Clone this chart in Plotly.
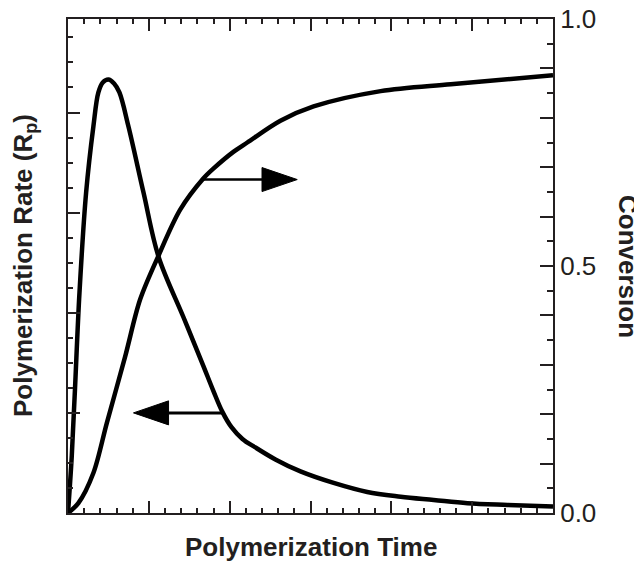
import plotly.graph_objects as go

# ---- data ----
rate_time = [0, 0.23, 0.43, 0.71, 1.12, 1.57, 1.88, 2.15, 2.50, 2.85, 3.18, 3.74, 4.67, 5.60,
             7.13, 8.37, 8.99, 9.55, 10.10, 10.79, 11.59, 12.83, 14.38, 16.43, 18.51, 20.58,
             22.62, 24.71, 27.19, 30.0]
rate_vals = [0, 0.56, 1.23, 2.20, 3.20, 3.86, 4.20, 4.30, 4.33, 4.29, 4.20, 3.86, 3.20, 2.56,
             1.96, 1.47, 1.22, 1.01, 0.86, 0.74, 0.655, 0.535, 0.415, 0.30, 0.21, 0.163,
             0.13, 0.097, 0.08, 0.065]

conv_time = [0, 0.64, 1.57, 2.40, 3.53, 4.46, 5.60, 6.94, 8.37, 8.99, 10.23, 11.09,
             13.14, 15.19, 19.34, 23.68, 30.0]
conv_vals = [0, 0.020, 0.081, 0.182, 0.316, 0.432, 0.521, 0.614, 0.677, 0.697, 0.731, 0.750,
             0.794, 0.823, 0.854, 0.868, 0.886]

# arrows: (tail time, head-base time, tip time, level, half-height)
arrow_conv = [8.39, 12.0, 14.18, 0.675, 0.0243]   # on conversion axis
arrow_rate = [9.53, 6.22, 4.05, 1.00, 0.12]       # on rate axis

right_tickvals = [round(0.1 * i, 1) for i in range(11)]
right_ticktext = ["0.0", " ", " ", " ", " ", "0.5", " ", " ", " ", " ", "1.0"]

INK = "#231f20"
FONT = "Liberation Sans, Arial, Helvetica, sans-serif"

fig = go.Figure()
fig.add_trace(go.Scatter(x=rate_time, y=rate_vals, mode="lines",
                         line=dict(color="black", width=4.5, shape="spline", smoothing=1.0,
                                   simplify=False),
                         yaxis="y", showlegend=False, hoverinfo="skip"))
fig.add_trace(go.Scatter(x=conv_time, y=conv_vals, mode="lines",
                         line=dict(color="black", width=4.5, shape="spline", smoothing=0.9,
                                   simplify=False),
                         yaxis="y2", showlegend=False, hoverinfo="skip"))

shapes = []
for spec, yref, w in ((arrow_conv, "y2", 2.5), (arrow_rate, "y", 3)):
    t0, tb, tip, lev, hh = spec
    shapes.append(dict(type="line", xref="x", yref=yref, x0=t0, x1=tb, y0=lev, y1=lev,
                       line=dict(color="black", width=w)))
    shapes.append(dict(type="path", xref="x", yref=yref,
                       path=f"M {tb},{lev - hh} L {tip},{lev} L {tb},{lev + hh} Z",
                       fillcolor="black", line=dict(color="black", width=1)))

# page body has an 8px margin: shrink figure and margins to compensate
fig.update_layout(
    width=634, height=553,
    margin=dict(l=60, r=89, t=11, b=48, autoexpand=False),
    paper_bgcolor="white", plot_bgcolor="white",
    font=dict(family=FONT, color=INK, size=26),
    shapes=shapes,
    xaxis=dict(range=[0, 30], showgrid=False, zeroline=False, automargin=False,
               showline=True, linecolor=INK, linewidth=2, mirror="ticks",
               ticks="inside", dtick=5, tick0=0, ticklen=12, tickwidth=2, tickcolor=INK,
               showticklabels=False,
               minor=dict(dtick=1, ticks="inside", ticklen=5, tickwidth=2, tickcolor=INK)),
    yaxis=dict(range=[0, 4.934], showgrid=False, zeroline=False, automargin=False,
               showline=True, linecolor=INK, linewidth=2,
               ticks="inside", dtick=1, tick0=0, ticklen=12, tickwidth=2, tickcolor=INK,
               showticklabels=False,
               minor=dict(dtick=0.25, ticks="inside", ticklen=5, tickwidth=2, tickcolor=INK)),
    yaxis2=dict(range=[0, 1], overlaying="y", side="right", showgrid=False, zeroline=False,
                automargin=False, ticklabeloverflow="allow",
                showline=True, linecolor=INK, linewidth=2,
                ticks="inside", tickvals=right_tickvals, ticktext=right_ticktext,
                ticklen=13, tickwidth=2, tickcolor=INK,
                tickfont=dict(size=26, color=INK, family=FONT),
                minor=dict(dtick=0.05, tick0=0, ticks="inside", ticklen=6, tickwidth=2, tickcolor=INK)),
    annotations=[
        dict(text="<b>Polymerization Time</b>", xref="paper", yref="paper",
             x=0.5, y=0, yshift=-34, xanchor="center", yanchor="middle",
             showarrow=False, font=dict(size=26, color=INK, family=FONT)),
        dict(text="<b>Polymerization Rate (R<sub>p</sub>)</b>", xref="paper", yref="paper",
             x=0, y=0.5, xshift=-44, textangle=-90, xanchor="center", yanchor="middle",
             showarrow=False, font=dict(size=26, color=INK, family=FONT)),
        dict(text="<b>Conversion</b>", xref="paper", yref="paper",
             x=1, y=0.5, xshift=75, textangle=90, xanchor="center", yanchor="middle",
             showarrow=False, font=dict(size=26, color=INK, family=FONT)),
    ],
)

fig.write_html("out.html")
